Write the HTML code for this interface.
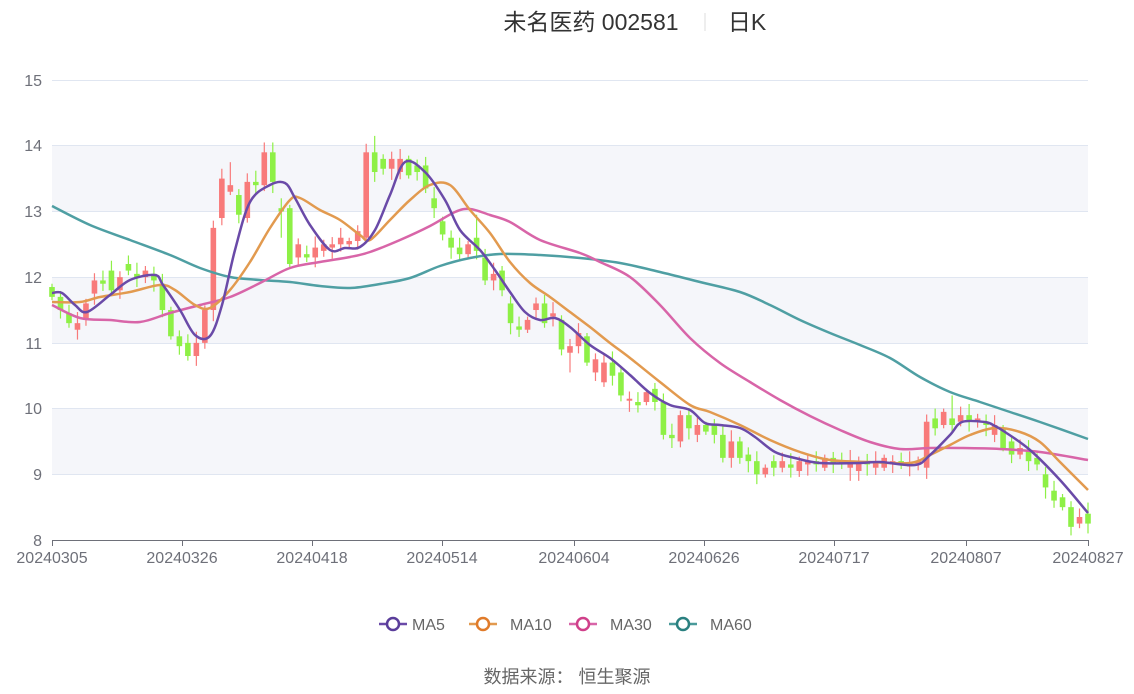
<!DOCTYPE html>
<html><head><meta charset="utf-8"><style>
body{margin:0;background:#fff;width:1134px;height:689px;overflow:hidden;font-family:"Liberation Sans","Noto Sans CJK SC",sans-serif}
</style></head><body>
<svg id="s" width="1134" height="689" xmlns="http://www.w3.org/2000/svg" font-family="Liberation Sans, Noto Sans CJK SC, sans-serif">
<rect width="1134" height="689" fill="#fff"/>
<rect x="52" y="408" width="1036" height="66" fill="#f5f6fa"/>
<rect x="52" y="277" width="1036" height="66" fill="#f5f6fa"/>
<rect x="52" y="145" width="1036" height="66" fill="#f5f6fa"/>
<g stroke="#e0e6f1" stroke-width="1">
<line x1="52" x2="1088" y1="80.5" y2="80.5"/><line x1="52" x2="1088" y1="145.5" y2="145.5"/><line x1="52" x2="1088" y1="211.5" y2="211.5"/><line x1="52" x2="1088" y1="277.5" y2="277.5"/><line x1="52" x2="1088" y1="343.5" y2="343.5"/><line x1="52" x2="1088" y1="408.5" y2="408.5"/><line x1="52" x2="1088" y1="474.5" y2="474.5"/>
</g>
<g font-size="16" fill="#6e7079" text-anchor="end">
<text x="42" y="86">15</text><text x="42" y="151">14</text><text x="42" y="217">13</text><text x="42" y="283">12</text><text x="42" y="349">11</text><text x="42" y="414">10</text><text x="42" y="480">9</text><text x="42" y="546">8</text>
</g>
<g id="c"></g>
<g id="m" fill="none" stroke-width="2.5" stroke-linejoin="round"></g>
<line x1="52" x2="1088" y1="540.5" y2="540.5" stroke="#6e7079"/>
<g id="t" stroke="#6e7079"></g>
<g font-size="16" fill="#6e7079" text-anchor="middle" id="xl"></g>
<text x="591" y="30" font-size="23" fill="#333" text-anchor="middle">未名医药 002581</text>
<line x1="705" x2="705" y1="13" y2="31" stroke="#ddd"/>
<text x="747" y="30" font-size="23" fill="#333" text-anchor="middle">日K</text>
<g font-size="16" fill="#666">
<line x1="379" x2="407" y1="624" y2="624" stroke="#6a4aa8" stroke-width="2.5"/><circle cx="393" cy="624" r="6" fill="#fff" stroke="#5a3d9a" stroke-width="2.5"/><text x="412" y="630">MA5</text>
<line x1="469" x2="497" y1="624" y2="624" stroke="#e29a4f" stroke-width="2.5"/><circle cx="483" cy="624" r="6" fill="#fff" stroke="#e07b2a" stroke-width="2.5"/><text x="510" y="630">MA10</text>
<line x1="569" x2="597" y1="624" y2="624" stroke="#d865a8" stroke-width="2.5"/><circle cx="583" cy="624" r="6" fill="#fff" stroke="#d0408a" stroke-width="2.5"/><text x="610" y="630">MA30</text>
<line x1="669" x2="697" y1="624" y2="624" stroke="#4a9a9a" stroke-width="2.5"/><circle cx="683" cy="624" r="6" fill="#fff" stroke="#2a8080" stroke-width="2.5"/><text x="710" y="630">MA60</text>
</g>
<text x="567" y="683" font-size="18" fill="#666" text-anchor="middle">数据来源：  恒生聚源</text>
</svg>
<script>
var NS="http://www.w3.org/2000/svg";
function Y(p){return 540-(p-8)*65.71;}
function el(t,a,par){var e=document.createElementNS(NS,t);for(var k in a)e.setAttribute(k,a[k]);par.appendChild(e);return e;}
var d=[[11.85,11.7],[11.7,11.5],[11.45,11.3],[11.2,11.3],[11.35,11.6],[11.75,11.95],[11.95,11.9],[12.1,11.8],[11.8,12.0],[12.2,12.1],
[12.05,12.0],[12.0,12.1],[12.05,11.95],[11.9,11.5],[11.5,11.1],[11.1,10.95],[11.0,10.8],[10.8,11.0],[11.0,11.5],[11.5,12.75],
[12.9,13.5],[13.3,13.4],[13.25,12.95],[12.9,13.45],[13.45,13.4],[13.4,13.9],[13.9,13.45],[13.05,13.0],[13.05,12.2],[12.3,12.5],
[12.35,12.3],[12.3,12.45],[12.4,12.5],[12.45,12.5],[12.5,12.6],[12.5,12.55],[12.55,12.7],[12.6,13.9],[13.9,13.6],[13.8,13.65],
[13.65,13.8],[13.6,13.8],[13.8,13.55],[13.7,13.6],[13.7,13.35],[13.2,13.05],[12.85,12.65],[12.6,12.45],[12.45,12.35],[12.35,12.5],
[12.6,12.4],[12.3,11.95],[11.95,12.05],[12.1,11.8],[11.6,11.3],[11.25,11.2],[11.2,11.35],[11.5,11.6],[11.6,11.3],[11.4,11.45],
[11.35,10.9],[10.85,10.95],[10.95,11.15],[11.1,10.7],[10.55,10.75],[10.4,10.7],[10.7,10.5],[10.55,10.2],[10.12,10.15],[10.1,10.05],
[10.1,10.25],[10.3,10.1],[10.1,9.6],[9.6,9.55],[9.5,9.9],[9.9,9.7],[9.6,9.75],[9.75,9.65],[9.75,9.6],[9.6,9.25],
[9.25,9.5],[9.5,9.25],[9.3,9.2],[9.2,9.0],[9.0,9.1],[9.2,9.1],[9.1,9.2],[9.15,9.1],[9.05,9.2],[9.15,9.2],
[9.2,9.15],[9.1,9.25],[9.25,9.15],[9.2,9.15],[9.1,9.2],[9.05,9.2],[9.2,9.15],[9.1,9.2],[9.1,9.25],[9.15,9.2],
[9.2,9.15],[9.12,9.18],[9.15,9.2],[9.1,9.8],[9.85,9.7],[9.75,9.95],[9.85,9.75],[9.8,9.9],[9.9,9.8],[9.8,9.85],
[9.8,9.75],[9.6,9.75],[9.7,9.4],[9.5,9.3],[9.3,9.4],[9.35,9.2],[9.25,9.15],[9.0,8.8],[8.75,8.6],[8.65,8.5],
[8.5,8.2],[8.25,8.35],[8.4,8.25]];
var g=document.getElementById("c");
var big={7:12.25,20:13.65,21:13.75,25:14.05,26:14.05,38:14.15,50:12.95,61:10.55,106:10.2,83:8.85,94:8.9,95:8.9};
for(var i=0;i<d.length;i++){
 var x=52+i*1036/122,o=d[i][0],c=d[i][1],up=c>=o,col=up?"#f87a7a":"#8ef046";
 var h=Math.max(o,c)+0.05+((i*37)%7)*0.02,l=Math.min(o,c)-0.05-((i*53)%7)*0.02;
 if(big[i]){if(big[i]>c)h=big[i];else l=big[i];}
 if(i==27)l=12.6;
 el("line",{x1:x,x2:x,y1:Y(h),y2:Y(l),stroke:col,"stroke-width":1.2},g);
 var yt=Y(Math.max(o,c)),yb=Y(Math.min(o,c));
 el("rect",{x:x-2.8,y:yt,width:5.6,height:Math.max(yb-yt,1.2),fill:col},g);
}
function path(p){var s="M"+p[0][0]+","+p[0][1];for(var i=0;i<p.length-1;i++){var p0=p[i-1]||p[i],p1=p[i],p2=p[i+1],p3=p[i+2]||p2;
s+=" C"+(p1[0]+(p2[0]-p0[0])/6)+","+(p1[1]+(p2[1]-p0[1])/6)+" "+(p2[0]-(p3[0]-p1[0])/6)+","+(p2[1]-(p3[1]-p1[1])/6)+" "+p2[0]+","+p2[1];}return s;}
var m=document.getElementById("m");
var L=[
["#4f9fa3",[[52,206],[90,225],[130,240],[170,255],[200,268],[230,277],[260,280],[290,282],[320,286],[350,288],[380,284],[410,278],[440,266],[470,258],[500,254],[540,255],[580,258],[620,263],[660,272],[700,282],[740,292],[770,305],[800,320],[830,333],[860,345],[890,358],[920,377],[950,392],[980,402],[1010,412],[1040,422],[1088,439]]],
["#d865a8",[[52,305],[80,318],[110,320],[140,322],[170,313],[200,305],[230,297],[260,283],[290,268],[320,262],[350,257],[370,252],[400,240],[430,226],[455,212],[470,209],[490,215],[510,222],[540,240],[580,253],[600,262],[630,277],[660,305],[690,338],[720,363],[750,382],[780,400],[810,416],[840,430],[870,442],[900,449],[930,448],[960,448],[1000,449],[1040,452],[1088,460]]],
["#e29a4f",[[52,302],[80,302],[100,297],[130,292],[160,285],[175,290],[195,305],[210,308],[230,290],[250,262],[270,228],[290,200],[300,198],[320,210],[340,220],[360,235],[370,240],[390,220],[410,200],[430,185],[450,185],[470,210],[490,233],[510,262],[530,283],[550,297],[570,312],[590,327],[610,343],[630,358],[660,382],[690,405],[710,412],[740,425],[770,440],[800,452],[830,460],[870,462],[910,463],[930,455],[950,445],[970,435],[995,428],[1020,432],[1040,442],[1060,462],[1088,490]]],
["#6a4aa8",[[52,293],[62,293],[75,305],[87,312],[110,295],[130,280],[155,275],[163,285],[180,310],[195,335],[210,336],[222,305],[235,250],[250,202],[270,185],[285,183],[295,198],[310,225],[330,250],[345,248],[360,247],[375,230],[390,195],[405,162],[425,172],[445,200],[460,230],[480,250],[495,270],[510,292],[525,312],[540,320],[555,318],[570,327],[590,345],[610,358],[630,375],[650,393],[670,405],[690,410],[705,423],[720,425],[740,428],[755,437],[775,452],[795,458],[820,463],[860,463],[880,462],[915,465],[930,455],[950,435],[962,422],[985,422],[995,426],[1005,432],[1030,450],[1060,480],[1088,513]]]];
L.forEach(function(q){el("path",{d:path(q[1]),stroke:q[0]},m);});
var labs=["20240305","20240326","20240418","20240514","20240604","20240626","20240717","20240807","20240827"];
var xs=[52,182,312,442,574,704,834,966,1088];
var t=document.getElementById("t"),xl=document.getElementById("xl");
for(var i=0;i<9;i++){el("line",{x1:xs[i]+0.5,x2:xs[i]+0.5,y1:540,y2:546},t);var tx=el("text",{x:xs[i],y:563},xl);tx.textContent=labs[i];}
</script>
</body></html>
